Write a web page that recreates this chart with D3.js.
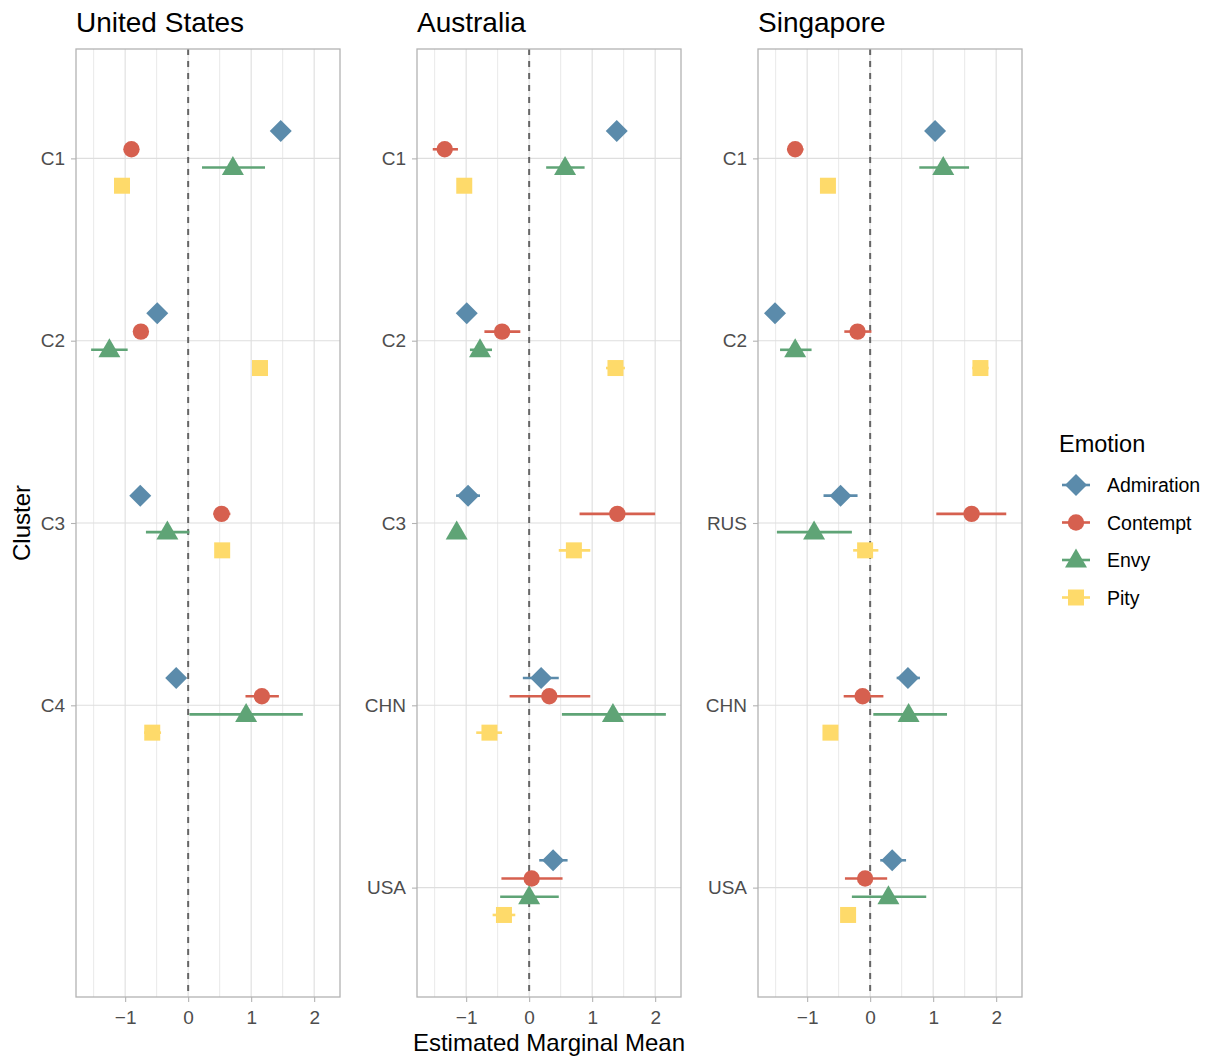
<!DOCTYPE html>
<html><head><meta charset="utf-8">
<script src="https://cdn.jsdelivr.net/npm/d3@7"></script>
<style>body{margin:0;background:#fff}text{font-family:"Liberation Sans",Arial,sans-serif}</style>
</head><body><svg id="c" width="1207" height="1059"></svg>
<script>
const emotions = ["Admiration","Contempt","Envy","Pity"];
const colors = ["#5B8BAB","#D6604F","#5FA476","#FEDA6A"];
const panels = ["United States","Australia","Singapore"];
const clustersUS = ["C1","C2","C3","C4"];
const clustersAU = ["C1","C2","C3","CHN","USA"];
const clustersSG = ["C1","C2","RUS","CHN","USA"];
const xTicks = [-1,0,1,2];
const xMinor = [-1.5,-0.5,0.5,1.5];
// [estimate, low, high] per cluster, per emotion (Admiration, Contempt, Envy, Pity)
const usAdmiration = [[1.47,1.40,1.54],[-0.49,-0.56,-0.42],[-0.76,-0.83,-0.69],[-0.19,-0.26,-0.12]];
const usContempt   = [[-0.90,-0.97,-0.83],[-0.75,-0.82,-0.68],[0.53,0.40,0.67],[1.17,0.91,1.44]];
const usEnvy       = [[0.71,0.22,1.22],[-1.25,-1.54,-0.96],[-0.33,-0.67,0.02],[0.92,0.02,1.82]];
const usPity       = [[-1.05,-1.12,-0.98],[1.14,1.07,1.21],[0.54,0.47,0.61],[-0.57,-0.70,-0.43]];
const auAdmiration = [[1.39,1.32,1.46],[-0.99,-1.06,-0.92],[-0.97,-1.16,-0.78],[0.19,-0.10,0.47],[0.38,0.16,0.61]];
const auContempt   = [[-1.34,-1.53,-1.13],[-0.43,-0.71,-0.14],[1.40,0.80,2.00],[0.32,-0.31,0.97],[0.04,-0.44,0.53]];
const auEnvy       = [[0.57,0.27,0.88],[-0.78,-0.94,-0.59],[-1.15,-1.22,-1.08],[1.33,0.52,2.17],[0.00,-0.46,0.47]];
const auPity       = [[-1.03,-1.10,-0.96],[1.37,1.22,1.52],[0.71,0.47,0.97],[-0.63,-0.84,-0.43],[-0.40,-0.58,-0.22]];
const sgAdmiration = [[1.03,0.96,1.10],[-1.51,-1.58,-1.44],[-0.47,-0.74,-0.20],[0.60,0.42,0.79],[0.35,0.16,0.57]];
const sgContempt   = [[-1.19,-1.32,-1.06],[-0.20,-0.41,0.02],[1.61,1.05,2.16],[-0.12,-0.42,0.21],[-0.08,-0.40,0.27]];
const sgEnvy       = [[1.16,0.78,1.57],[-1.19,-1.43,-0.93],[-0.89,-1.48,-0.29],[0.61,0.05,1.22],[0.29,-0.29,0.89]];
const sgPity       = [[-0.67,-0.74,-0.60],[1.75,1.62,1.88],[-0.08,-0.27,0.13],[-0.63,-0.70,-0.56],[-0.35,-0.42,-0.28]];

const panelData = [
  {title:panels[0], cl:clustersUS, series:[usAdmiration,usContempt,usEnvy,usPity]},
  {title:panels[1], cl:clustersAU, series:[auAdmiration,auContempt,auEnvy,auPity]},
  {title:panels[2], cl:clustersSG, series:[sgAdmiration,sgContempt,sgEnvy,sgPity]}
];

const svg = d3.select("#c");
const pTop = 49, pBottom = 997, pw = 264, lefts = [76,417,758];
const offsets = [-0.15,-0.05,0.05,0.15];

function shapePath(i){
  if(i===0) return "M0,-11L11,0L0,11L-11,0Z";
  if(i===1) return d3.symbol(d3.symbolCircle, Math.PI*8.2*8.2)();
  if(i===2) return "M0,-11.5L11,7.5L-11,7.5Z";
  return "M-8,-8H8V8H-8Z";
}

panelData.forEach((p,pi)=>{
  const x = d3.scaleLinear().domain([-1.78,2.41]).range([lefts[pi], lefts[pi]+pw]);
  const y = d3.scaleLinear().domain([0.4,5.6]).range([pTop,pBottom]);
  const g = svg.append("g");
  g.selectAll(".mn").data(xMinor).join("line").attr("x1",d=>x(d)).attr("x2",d=>x(d))
    .attr("y1",pTop).attr("y2",pBottom).attr("stroke","#E3E3E3").attr("stroke-width",0.8);
  g.selectAll(".mj").data(xTicks).join("line").attr("x1",d=>x(d)).attr("x2",d=>x(d))
    .attr("y1",pTop).attr("y2",pBottom).attr("stroke","#DEDEDE").attr("stroke-width",1.1);
  g.selectAll(".my").data(p.cl).join("line").attr("x1",lefts[pi]).attr("x2",lefts[pi]+pw)
    .attr("y1",(d,i)=>y(i+1)).attr("y2",(d,i)=>y(i+1)).attr("stroke","#DEDEDE").attr("stroke-width",1.1);
  g.append("line").attr("x1",x(0)).attr("x2",x(0)).attr("y1",pTop).attr("y2",pBottom)
    .attr("stroke","#666").attr("stroke-width",2).attr("stroke-dasharray","6,6");
  p.series.forEach((s,ei)=>{
    const sg = g.append("g");
    sg.selectAll("line").data(s).join("line")
      .attr("x1",d=>x(d[1])).attr("x2",d=>x(d[2]))
      .attr("y1",(d,i)=>y(i+1+offsets[ei])).attr("y2",(d,i)=>y(i+1+offsets[ei]))
      .attr("stroke",colors[ei]).attr("stroke-width",2.6);
    sg.selectAll("path").data(s).join("path")
      .attr("d",shapePath(ei))
      .attr("transform",(d,i)=>`translate(${x(d[0])},${y(i+1+offsets[ei])})`)
      .attr("fill",colors[ei]);
  });
  g.append("rect").attr("x",lefts[pi]).attr("y",pTop).attr("width",pw).attr("height",pBottom-pTop)
    .attr("fill","none").attr("stroke","#B3B3B3").attr("stroke-width",1.3);
  const xa = g.append("g").attr("transform",`translate(0,${pBottom})`)
    .call(d3.axisBottom(x).tickValues(xTicks).tickSize(5).tickPadding(9).tickFormat(d=>d<0?"\u2212"+Math.abs(d):d));
  xa.select(".domain").remove();
  xa.selectAll("line").attr("stroke","#B3B3B3").attr("stroke-width",1.1);
  xa.selectAll("text").attr("fill","#4D4D4D").style("font-size","19px");
  const ya = g.append("g").attr("transform",`translate(${lefts[pi]},0)`)
    .call(d3.axisLeft(y).tickValues(p.cl.map((d,i)=>i+1)).tickSize(5).tickPadding(6).tickFormat((d,i)=>p.cl[i]));
  ya.select(".domain").remove();
  ya.selectAll("line").attr("stroke","#B3B3B3").attr("stroke-width",1.1);
  ya.selectAll("text").attr("fill","#4D4D4D").style("font-size","19px");
  g.append("text").attr("x",lefts[pi]).attr("y",32).text(p.title).style("font-size","28px").attr("fill","#000");
});

svg.append("text").attr("transform","translate(30,523) rotate(-90)").attr("text-anchor","middle")
  .style("font-size","24px").text("Cluster");
svg.append("text").attr("x",549).attr("y",1051).attr("text-anchor","middle")
  .style("font-size","24px").text("Estimated Marginal Mean");

const lg = svg.append("g");
lg.append("text").attr("x",1059).attr("y",452).style("font-size","23.5px").text("Emotion");
emotions.forEach((e,i)=>{
  const yy = 485 + i*37.5;
  lg.append("line").attr("x1",1062).attr("x2",1090).attr("y1",yy).attr("y2",yy).attr("stroke",colors[i]).attr("stroke-width",2.6);
  lg.append("path").attr("d",shapePath(i)).attr("transform",`translate(1076,${yy})`).attr("fill",colors[i]);
  lg.append("text").attr("x",1107).attr("y",yy+7).style("font-size","19.5px").text(e);
});
</script></body></html>
